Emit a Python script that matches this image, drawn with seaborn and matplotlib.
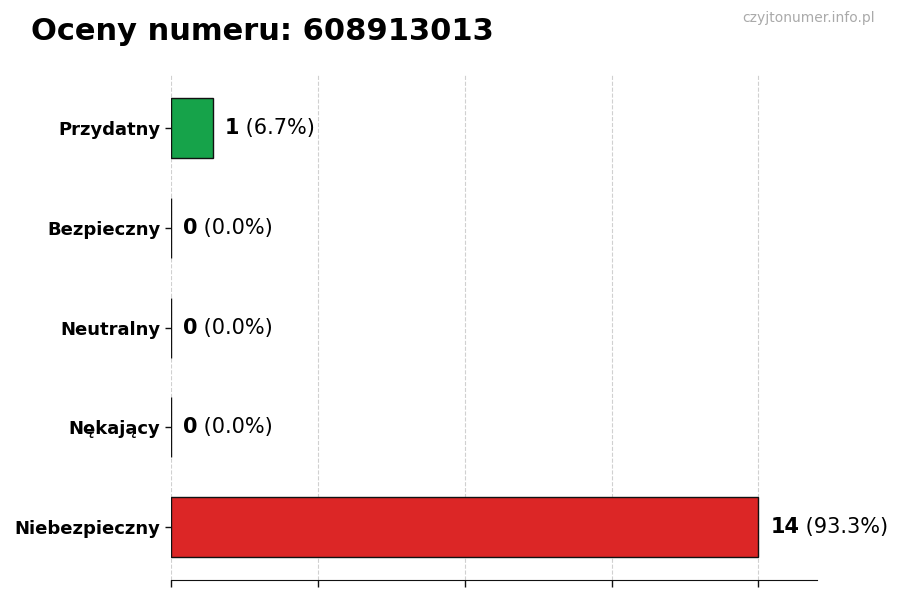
import matplotlib
matplotlib.use("Agg")
import matplotlib.pyplot as plt
import seaborn as sns
import pandas as pd

categories = ["Przydatny", "Bezpieczny", "Neutralny", "Nękający", "Niebezpieczny"]
counts = [1, 0, 0, 0, 14]
colors = ["#16a34a", "#9ca3af", "#6b7280", "#ea580c", "#dc2626"]
title = "Oceny numeru: 608913013"
watermark = "czyjtonumer.info.pl"

sns.set_style("white")
plt.rcParams["font.family"] = ["DejaVu Sans"]
plt.rcParams["text.color"] = "black"
plt.rcParams["axes.labelcolor"] = "black"
plt.rcParams["xtick.color"] = "black"
plt.rcParams["ytick.color"] = "black"

df = pd.DataFrame({"kategoria": categories, "liczba": counts})
total = sum(counts)
vmax = max(counts)

fig = plt.figure(figsize=(9, 6), dpi=100)
ax = fig.add_axes([0.19, 0.033, 0.718, 0.842])

sns.barplot(data=df, y="kategoria", x="liczba", hue="kategoria", palette=colors,
            legend=False, orient="h", width=0.6, edgecolor="#111111",
            linewidth=1, saturation=1, ax=ax)

ax.set_xlim(0, vmax * 1.1)
ax.set_ylim(len(categories) - 0.47, -0.53)
ax.set_xticks([vmax * i / 4 for i in range(5)])
ax.set_xticklabels([])
ax.tick_params(axis="x", bottom=True, length=5, width=1, color="#111111")
ax.tick_params(axis="y", left=True, length=4, width=1, color="#111111",
               labelsize=13, labelcolor="black")
for lab in ax.get_yticklabels():
    lab.set_fontweight("bold")
ax.set_xlabel("")
ax.set_ylabel("")
ax.grid(axis="x", linestyle="--", color="#d0d0d0", linewidth=0.8)
ax.set_axisbelow(True)
for side in ["top", "right", "left"]:
    ax.spines[side].set_visible(False)
ax.spines["bottom"].set_color("#111111")

for i, c in enumerate(counts):
    pct = 100 * c / total if total else 0
    t = ax.text(c + vmax * 0.02, i, f"{c}", fontsize=15, fontweight="bold",
                va="center", ha="left", color="black")
    ax.annotate(f" ({pct:.1f}%)", xy=(1, 0.5), xycoords=t, fontsize=15,
                va="center", ha="left", color="black")

fig.text(0.034, 0.947, title, fontsize=22, fontweight="bold", va="center",
         color="black")
fig.text(0.972, 0.97, watermark, fontsize=10, color="#aaaaaa", va="center",
         ha="right")

fig.savefig("out.png", dpi=100)
